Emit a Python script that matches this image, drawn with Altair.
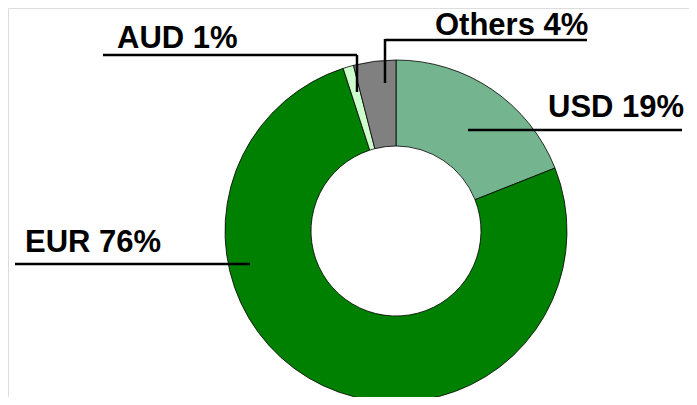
import altair as alt
import pandas as pd

# Data
currencies = ["USD", "EUR", "AUD", "Others"]
shares = [19, 76, 1, 4]
colors = ["#74b58f", "#008000", "#ccffcc", "#808080"]
label_texts = ["USD 19%", "EUR 76%", "AUD 1%", "Others 4%"]

# Layout (annotation positions in page pixels, page margin = 8px)
OFF = 8
label_pos = {  # left x, baseline y
    "USD 19%": (548, 117),
    "EUR 76%": (25, 252),
    "AUD 1%": (117, 48),
    "Others 4%": (435, 35),
}
leader_segments = [  # x, y, x2, y2
    (468, 130, 682, 130),
    (15, 264, 250, 264),
    (103, 55, 357, 55),
    (357, 55, 357, 92),
    (385, 39, 385, 83),
    (385, 40, 587, 40),
]
CX, CY = 396 - OFF, 231 - OFF
R_OUT, R_IN = 171, 85

df = pd.DataFrame({"currency": currencies, "share": shares,
                   "idx": list(range(len(currencies)))})

arcs = alt.Chart(df).mark_arc(
    outerRadius=R_OUT, innerRadius=R_IN, stroke="#000000", strokeWidth=0.8
).encode(
    theta=alt.Theta("share:Q", stack=True),
    order=alt.Order("idx:Q"),
    color=alt.Color("currency:N", scale=alt.Scale(domain=currencies, range=colors), legend=None),
    x=alt.value(CX),
    y=alt.value(CY),
)

lab_df = pd.DataFrame({
    "text": label_texts,
    "x": [label_pos[t][0] - OFF for t in label_texts],
    "y": [label_pos[t][1] - OFF for t in label_texts],
})
texts = alt.Chart(lab_df).mark_text(
    align="left", baseline="alphabetic", font="Liberation Sans",
    fontWeight="bold", fontSize=31, color="#000000"
).encode(
    x=alt.X("x:Q", scale=None),
    y=alt.Y("y:Q", scale=None),
    text="text:N",
)

seg_df = pd.DataFrame(leader_segments, columns=["x", "y", "x2", "y2"]) - OFF
lines = alt.Chart(seg_df).mark_rule(color="#000000", strokeWidth=2.5).encode(
    x=alt.X("x:Q", scale=None),
    y=alt.Y("y:Q", scale=None),
    x2="x2:Q",
    y2="y2:Q",
)

chart = alt.layer(arcs, lines, texts).properties(
    width=681, height=389, padding=0, autosize=alt.AutoSizeParams(type="none")
).configure_view(strokeWidth=0).configure(background="#ffffff")

chart.save("out.html", embed_options={"renderer": "svg", "actions": False})
